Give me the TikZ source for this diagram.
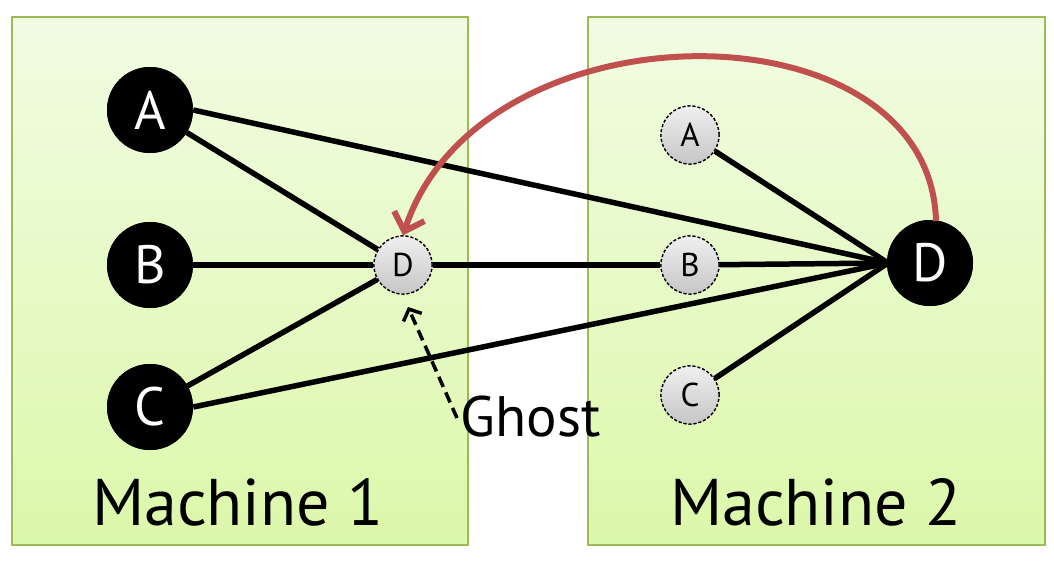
\documentclass[tikz,border=0pt]{standalone}
\usepackage{fontspec}
\setmainfont{PT Sans}
\usetikzlibrary{arrows.meta}
\definecolor{boxtop}{HTML}{F1FCE3}
\definecolor{boxbot}{HTML}{DCF8AA}
\definecolor{boxline}{HTML}{9BBB59}
\definecolor{redarc}{HTML}{C0504D}
\tikzset{
  realnode/.style={circle,fill=black,text=white,minimum size=86pt,inner sep=0pt,font=\fontsize{54}{54}\selectfont},
  ghostnode/.style={circle,draw=black,dashed,line width=1.3pt,dash pattern=on 3pt off 2pt,top color=gray!12,bottom color=gray!45,text=black,minimum size=58pt,inner sep=0pt,font=\fontsize{33}{33}\selectfont},
  edge/.style={line width=5.5pt},
  machinebox/.style={draw=boxline,line width=2pt,top color=boxtop,bottom color=boxbot},
  machlabel/.style={font=\fontsize{66}{66}\selectfont},
}
\begin{document}
\begin{tikzpicture}[x=1pt,y=-1pt]
\useasboundingbox (0,0) rectangle (1054,560);
\fill[white] (0,0) rectangle (1054,560);
\node[machinebox,minimum width=456pt,minimum height=528pt,inner sep=0pt] (m1) at (240,281) {};
\node[machinebox,minimum width=457pt,minimum height=528pt,inner sep=0pt] (m2) at (816.5,281) {};
\node[machlabel] (l1) at (238,502) {Machine 1};
\node[machlabel] (l2) at (816,502) {Machine 2};

\node[ghostnode] (gD) at (403,265) {D};
\node[ghostnode] (gA) at (690,135) {A};
\node[ghostnode] (gB) at (690,265) {B};
\node[ghostnode] (gC) at (690,395) {C};
\node[realnode] (A) at (150,110) {A};
\node[realnode] (B) at (150,265) {B};
\node[realnode] (C) at (150,407) {C};
\node[realnode] (D) at (930,263) {D};

\coordinate (Dw) at (888,263);
\draw[edge] (A) -- (gD);
\draw[edge] (B) -- (gD);
\draw[edge] (C) -- (gD);
\draw[edge] (gD) -- (gB);
\draw[edge] (gB) -- (Dw);
\draw[edge] (A.east) -- (Dw);
\draw[edge] (C.east) -- (Dw);
\draw[edge] (gA) -- (Dw);
\draw[edge] (gC) -- (Dw);
\node[realnode] at (D) {D};
\node[ghostnode] at (gD) {D};
\node[ghostnode] at (gA) {A};
\node[ghostnode] at (gB) {B};
\node[ghostnode] at (gC) {C};
\node[realnode] at (A) {A};
\node[realnode] at (B) {B};
\node[realnode] at (C) {C};

\draw[redarc,line width=6pt,-{Straight Barb[length=16pt,width=32pt,line width=6pt]}]
  (936,221) .. controls (930,0) and (480,0) .. (gD.north);

\node[font=\fontsize{57}{57}\selectfont,anchor=west] (gh) at (457,417) {Ghost};
\coordinate (gs) at (457,418);
\draw[line width=3.5pt,dash pattern=on 11pt off 6pt,-{Straight Barb[length=9pt,width=20pt,line width=3.5pt]}] (gs) -- (408,307);
\end{tikzpicture}
\end{document}
